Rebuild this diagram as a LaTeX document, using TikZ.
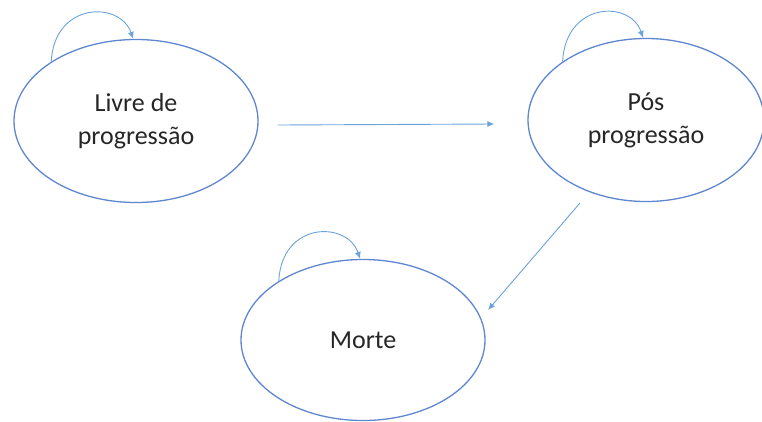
\documentclass[tikz,border=0pt]{standalone}
\usepackage{fontspec}
\setmainfont{Carlito}
\usetikzlibrary{shapes.geometric,arrows.meta,calc}
\definecolor{ellblue}{RGB}{95,134,208}
\definecolor{arrblue}{RGB}{108,162,218}
\definecolor{txt}{RGB}{38,38,38}
\begin{document}
\begin{tikzpicture}[x=1pt,y=-1pt,
  state/.style={draw=ellblue,line width=1.3pt,ellipse,minimum width=244pt,minimum height=163pt,inner sep=0pt,
    align=center,text=txt,font=\fontsize{26}{33}\selectfont},
  conn/.style={draw=arrblue,line width=0.9pt,-{Latex[length=7pt,width=6pt]}}]
\useasboundingbox (0,0) rectangle (762,421);
\node[state] (e1) at (136,121) {Livre de\\progressão};
\node[state,minimum width=236pt] (e2) at (646,120) {Pós\\progressão};
\node[state,minimum height=161pt] (e3) at (363,340) {Morte};
% self loops
\draw[conn] (e1.145) .. controls +(3,-60) and +(-13,-38) .. (e1.92);
\draw[conn] (e2.145) .. controls +(3,-60) and +(-13,-38) .. (e2.92);
\draw[conn] (e3.145) .. controls +(3,-60) and +(-13,-38) .. (e3.92);
% transitions
\draw[conn] ([xshift=19pt,yshift=-4pt]e1.east) -- ([xshift=-33pt,yshift=-4pt]e2.west);
\draw[conn] ($(e2.center)+(-66,83)$) -- ($(e3.center)+(125,-30)$);
\end{tikzpicture}
\end{document}
